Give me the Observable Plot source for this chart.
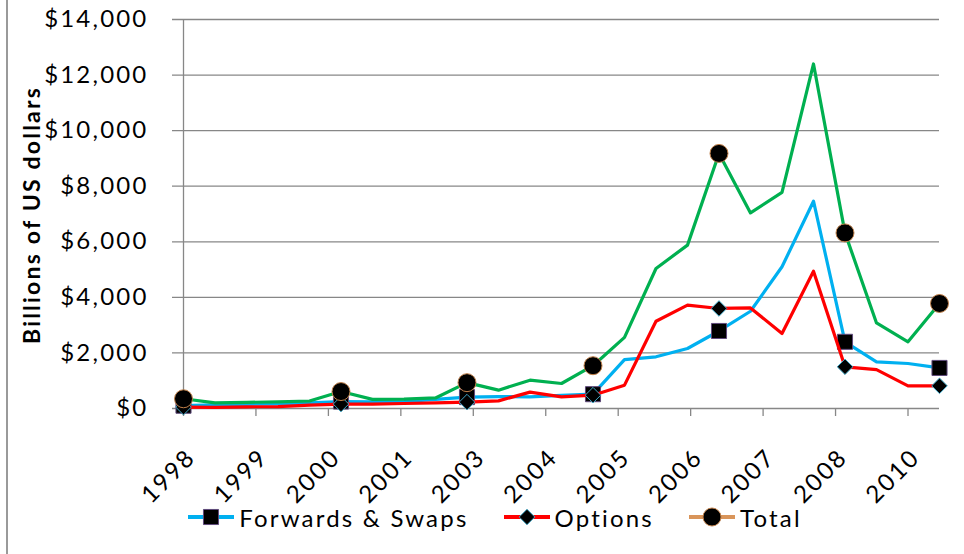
<!DOCTYPE html>
<html>
<head>
<meta charset="utf-8">
<script src="https://cdn.jsdelivr.net/npm/d3@7"></script>
<script src="https://cdn.jsdelivr.net/npm/@observablehq/plot@0.6"></script>
<style>
  html, body { margin: 0; padding: 0; background: #fff; }
  #wrap { position: relative; width: 964px; height: 554px; overflow: hidden; font-family: Lato, "Open Sans", sans-serif; }
  #border { position: absolute; left: 6px; top: 0; width: 2px; height: 554px; background: #9a9a9a; }
  #chart { position: absolute; left: 0; top: 0; }
  #legend { position: absolute; left: 0; top: 503px; width: 990px; height: 28px; display: flex; justify-content: center; align-items: center; gap: 35px; font-size: 24px; letter-spacing: 2.2px; color: #000; }
  .item { display: flex; align-items: center; gap: 5px; }
</style>
</head>
<body>
<div id="wrap">
  <div id="border"></div>
  <div id="chart"></div>
  <div id="legend"></div>
</div>
<script>
// Semiannual observations (25 points), values in billions of US dollars
const forwardsSwaps = [100, 130, 150, 170, 200, 250, 240, 250, 330, 410, 430, 420, 470, 515, 1760, 1860, 2160, 2790, 3500, 5100, 7460, 2400, 1680, 1620, 1460];
const options       = [50, 40, 60, 70, 120, 160, 155, 180, 200, 230, 275, 590, 420, 480, 840, 3140, 3720, 3600, 3620, 2700, 4940, 1500, 1400, 815, 815];
const total         = [350, 200, 220, 240, 270, 610, 330, 340, 380, 930, 660, 1020, 900, 1540, 2560, 5040, 5880, 9180, 7040, 7780, 12400, 6320, 3080, 2400, 3780];

// observations that carry a marker
const markerIndex = [0, 5, 9, 13, 17, 21, 24];

// category axis labels
const xTickLabels = ["1998", "1999", "2000", "2001", "2003", "2004", "2005", "2006", "2007", "2008", "2010"];
const yTickValues = [0, 2000, 4000, 6000, 8000, 10000, 12000, 14000];

const seriesNames = ["Forwards & Swaps", "Options", "Total"];
const lineColors = ["#00B0F0", "#FF0000", "#00B050"];
const legendLineColors = ["#00B0F0", "#FF0000", "#D9955A"];
const markerSymbols = ["square", "diamond2", "circle"];
const markerStrokes = ["#5F4A7B", "#3FA6C4", "#C0804A"];
const markerR = [8.5, 7, 9];
const seriesValues = [forwardsSwaps, options, total];

const lastIndex = forwardsSwaps.length - 1;
const labelSpan = lastIndex - 1; // labels are spread over the first 24 intervals
const xTickPos = xTickLabels.map((_, i) => i * labelSpan / (xTickLabels.length - 1));
const labelAt = new Map(xTickPos.map((p, i) => [p, xTickLabels[i]]));

const grid = "#878787";

const seriesMarks = seriesValues.flatMap((vals, s) => [
  Plot.lineY(vals, {x: (d, i) => i, y: d => d, stroke: lineColors[s], strokeWidth: 3.2, strokeLinejoin: "round"}),
  Plot.dot(markerIndex, {x: d => d, y: d => vals[d], symbol: markerSymbols[s], r: markerR[s], fill: "#000", stroke: markerStrokes[s], strokeWidth: 1})
]);

const chart = Plot.plot({
  width: 964,
  height: 500,
  marginLeft: 183,
  marginRight: 25,
  marginTop: 19,
  marginBottom: 92,
  x: {domain: [0, lastIndex]},
  y: {domain: [0, 14000]},
  style: {fontFamily: "Lato, 'Open Sans', sans-serif", fontSize: "24px", letterSpacing: "2.2px", color: "#000", background: "transparent", overflow: "visible"},
  marks: [
    Plot.ruleY(yTickValues, {stroke: grid, strokeWidth: 1.3, insetLeft: -11}),
    Plot.ruleX([0], {stroke: grid, strokeWidth: 1.3}),
    Plot.axisX(xTickPos, {tickSize: 8, tickFormat: () => "", stroke: grid, strokeWidth: 1.3, label: null}),
    Plot.text(xTickPos, {x: d => d, frameAnchor: "bottom", text: d => labelAt.get(d), rotate: -45, textAnchor: "end", lineAnchor: "middle", dx: 8, dy: 45, fontSize: 24, fill: "#000"}),
    Plot.axisY(yTickValues, {tickSize: 0, tickPadding: 35, tickFormat: d => "$" + d3.format(",")(d), label: null, fontSize: 24, fill: "#000"}),
    Plot.text(["Billions of US dollars"], {frameAnchor: "left", rotate: -90, dx: -151, dy: 1, textAnchor: "middle", fontWeight: "bold", fontSize: 23, fill: "#000", lineAnchor: "middle"}),
    ...seriesMarks
  ]
});
document.getElementById("chart").appendChild(chart);

// legend
const legend = d3.select("#legend");
seriesNames.forEach((name, s) => {
  const item = legend.append("div").attr("class", "item");
  const svg = item.append("svg").attr("width", 46).attr("height", 20);
  svg.append("line").attr("x1", 0).attr("x2", 46).attr("y1", 10).attr("y2", 10)
    .attr("stroke", legendLineColors[s]).attr("stroke-width", 4);
  const sym = {square: d3.symbolSquare, diamond2: d3.symbolDiamond2, circle: d3.symbolCircle}[markerSymbols[s]];
  const size = Math.PI * markerR[s] * markerR[s];
  svg.append("path").attr("d", d3.symbol(sym, size)()).attr("transform", "translate(23,10)")
    .attr("fill", "#000").attr("stroke", markerStrokes[s]).attr("stroke-width", 1);
  item.append("span").text(name);
});
</script>
</body>
</html>
